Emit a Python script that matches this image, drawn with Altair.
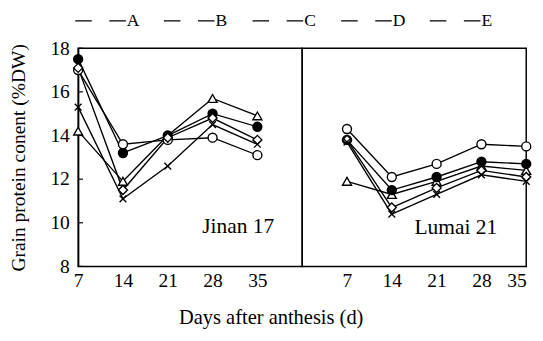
import altair as alt
import pandas as pd

days = [7, 14, 21, 28, 35]
series = ["A", "B", "C", "D", "E"]
y_ticks = [8, 10, 12, 14, 16, 18]

# Jinan 17
jinan_A = [14.2, 11.9, 14.0, 15.7, 14.9]
jinan_B = [17.5, 13.2, 14.0, 15.0, 14.4]
jinan_C = [17.0, 13.6, 13.8, 13.9, 13.1]
jinan_D = [17.1, 11.5, 13.9, 14.8, 13.8]
jinan_E = [15.3, 11.1, 12.6, 14.5, 13.6]

# Lumai 21
lumai_A = [11.9, 11.3, 11.9, 12.6, 12.4]
lumai_B = [13.8, 11.5, 12.1, 12.8, 12.7]
lumai_C = [14.3, 12.1, 12.7, 13.6, 13.5]
lumai_D = [13.8, 10.7, 11.6, 12.4, 12.1]
lumai_E = [13.7, 10.4, 11.3, 12.2, 11.9]

panel_labels = ["Jinan 17", "Lumai 21"]
label_day = [32.0, 24.0]
label_val = [9.85, 9.8]

FONT = "Liberation Serif"


def make_df(vals):
    rows = []
    for s, v in zip(series, vals):
        for d, y in zip(days, v):
            rows.append({"day": d, "val": y, "series": s})
    return pd.DataFrame(rows)


jinan_df = make_df([jinan_A, jinan_B, jinan_C, jinan_D, jinan_E])
lumai_df = make_df([lumai_A, lumai_B, lumai_C, lumai_D, lumai_E])

shape_range = ["triangle-up", "circle", "circle", "diamond",
               "M-0.75,-0.75L0.75,0.75M-0.75,0.75L0.75,-0.75"]
fill_range = ["white", "black", "white", "white", "white"]

yscale = alt.Scale(domain=[8, 18], nice=False, zero=False)


def panel(df, domain, show_y, idx, show_legend, flush):
    x = alt.X("day:Q", scale=alt.Scale(domain=domain, nice=False, zero=False),
              axis=alt.Axis(values=days, title=None, ticks=False, domain=False,
                            grid=False, labelFontSize=20, labelPadding=5,
                            labelFlush=flush))
    if show_y:
        y = alt.Y("val:Q", scale=yscale,
                  axis=alt.Axis(values=y_ticks, title="Grain protein conent (%DW)",
                                grid=False, ticks=False, labelFontSize=20, titleFontSize=20,
                                titlePadding=22, labelPadding=9))
    else:
        y = alt.Y("val:Q", scale=yscale, axis=None)

    if show_legend:
        legend = alt.Legend(title=None, orient="none", direction="horizontal",
                            legendX=-4, legendY=-55,
                            symbolType="stroke", symbolSize=2704, symbolDash=[17, 18],
                            symbolStrokeWidth=1.3, labelFontSize=18, labelFont=FONT,
                            labelColor="black", labelOffset=0, columnPadding=22)
    else:
        legend = None

    lines = alt.Chart(df).mark_line(strokeWidth=1.4).encode(
        x=x, y=y,
        color=alt.Color("series:N", scale=alt.Scale(domain=series, range=["black"] * 5),
                        legend=legend),
    )
    layers = [lines]
    for s, shp, fl in zip(series, shape_range, fill_range):
        pts = alt.Chart(df).transform_filter(alt.datum.series == s).mark_point(
            size=85, strokeWidth=1.4, stroke="black", fill=fl, opacity=1,
            shape=shp, filled=False, fillOpacity=1).encode(x=x, y=y)
        layers.append(pts)
    lab = alt.Chart(pd.DataFrame({"day": [label_day[idx]], "val": [label_val[idx]],
                                  "t": [panel_labels[idx]]})).mark_text(
        font=FONT, fontSize=22, color="black").encode(x=x, y=y, text="t:N")
    layers.append(lab)
    if show_y:
        ticks = alt.Chart(pd.DataFrame({"val": y_ticks})).mark_rule(
            color="black", strokeWidth=1.2).encode(
            y=y, x=alt.value(0), x2=alt.value(5))
        layers.append(ticks)
    return alt.layer(*layers).properties(width=230, height=224)


left = panel(jinan_df, [7, 42], True, 0, True, False)
right = panel(lumai_df, [0, 35], False, 1, False, True)

chart = alt.hconcat(left, right, spacing=0, bounds="flush").resolve_scale(
    color="shared"
).properties(
    title=alt.TitleParams("Days after anthesis (d)", orient="bottom", anchor="middle",
                          fontSize=21, font=FONT, fontWeight="normal", color="black",
                          offset=16),
    padding={"left": 0, "top": -18, "right": 0, "bottom": 0},
).configure_view(stroke="black", strokeWidth=1.5).configure_axis(
    labelFont=FONT, titleFont=FONT, labelColor="black", titleColor="black",
    titleFontWeight="normal", tickColor="black", domainColor="black", domainWidth=1.5
)

chart.save("out.html", embed_options={"renderer": "svg", "actions": False})
